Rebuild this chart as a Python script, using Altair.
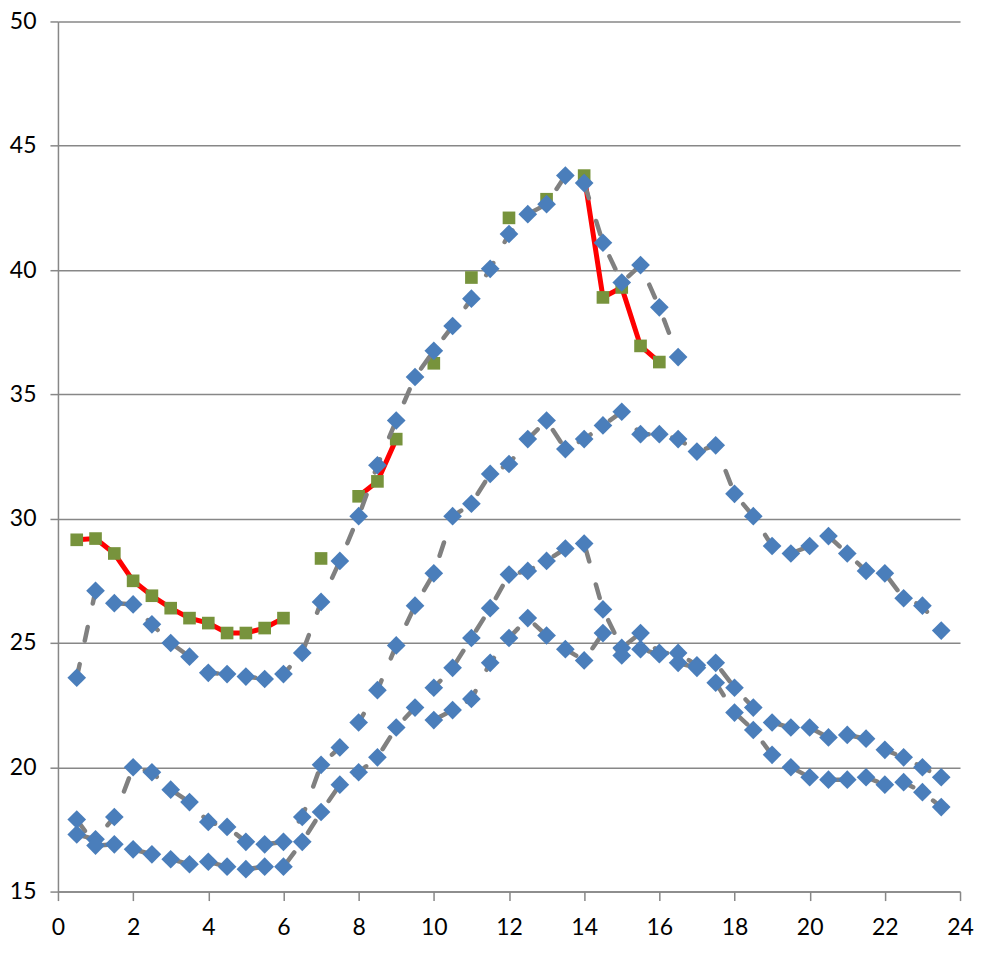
import altair as alt
import pandas as pd

# ---- data ----
HOURS = [0.5, 1.0, 1.5, 2.0, 2.5, 3.0, 3.5, 4.0, 4.5, 5.0, 5.5, 6.0,
         6.5, 7.0, 7.5, 8.0, 8.5, 9.0, 9.5, 10.0, 10.5, 11.0, 11.5, 12.0,
         12.5, 13.0, 13.5, 14.0, 14.5, 15.0, 15.5, 16.0, 16.5, 17.0, 17.5, 18.0,
         18.5, 19.0, 19.5, 20.0, 20.5, 21.0, 21.5, 22.0, 22.5, 23.0, 23.5]

# blue series (grey dashed lines)
SERIES_A = [23.6, 27.1, 26.6, 26.55, 25.75, 25.0, 24.45, 23.8, 23.75, 23.65, 23.55, 23.75,
            24.6, 26.65, 28.3, 30.1, 32.15, 33.95, 35.7, 36.75, 37.75, 38.85, 40.05, 41.45,
            42.25, 42.65, 43.8, 43.5, 41.1, 39.5, 40.2, 38.5, 36.5]          # 0.5 .. 16.5
SERIES_B = [17.3, 17.1, 18.0, 20.0, 19.8, 19.1, 18.6, 17.8, 17.6, 17.0, 16.9, 17.0,
            18.0, 20.1, 20.8, 21.8, 23.1, 24.9, 26.5, 27.8, 30.1, 30.6, 31.8, 32.2,
            33.2, 33.95, 32.8, 33.2, 33.75, 34.3, 33.4, 33.4, 33.2, 32.7, 32.95, 31.0,
            30.1, 28.9, 28.6, 28.9, 29.3, 28.6, 27.9, 27.8, 26.8, 26.5, 25.5]  # 0.5 .. 23.5
SERIES_C = [17.9, 16.85, 16.9, 16.7, 16.5, 16.3, 16.1, 16.2, 16.0, 15.9, 16.0, 16.0,
            17.0, 18.2, 19.3, 19.8, 20.4, 21.6, 22.4, 23.2, 24.0, 25.2, 26.4, 27.75,
            27.9, 28.3, 28.8, 29.0, 26.35, 24.8, 25.4, 24.6, 24.6, 24.1, 24.2, 23.2,
            22.4, 21.8, 21.6, 21.6, 21.2, 21.3, 21.15, 20.7, 20.4, 20.0, 19.6]  # 0.5 .. 23.5
SERIES_D = [21.9, 22.3, 22.75, 24.2, 25.2, 26.0, 25.3, 24.75, 24.3, 25.4, 24.5, 24.75,
            24.55, 24.2, 24.0, 23.4, 22.2, 21.5, 20.5, 20.0, 19.6, 19.5, 19.5, 19.6,
            19.3, 19.4, 19.0, 18.4]                                            # 10.0 .. 23.5

# green squares / red line (None = missing reading)
SERIES_G = [29.15, 29.2, 28.6, 27.5, 26.9, 26.4, 26.0, 25.8, 25.4, 25.4, 25.6, 26.0,
            None, 28.4, None, 30.9, 31.5, 33.2, None, 36.25, None, 39.7, None, 42.1,
            None, 42.85, None, 43.8, 38.9, 39.3, 36.95, 36.3]                  # 0.5 .. 16.0

X_TICKS = [0, 2, 4, 6, 8, 10, 12, 14, 16, 18, 20, 22, 24]
Y_TICKS = [15, 20, 25, 30, 35, 40, 45, 50]

# ---- tables ----
blue_rows = []
for name, vals, start in [("A", SERIES_A, 0), ("B", SERIES_B, 0),
                          ("C", SERIES_C, 0), ("D", SERIES_D, HOURS.index(10.0))]:
    for i, v in enumerate(vals):
        blue_rows.append({"series": name, "x": HOURS[start + i], "y": v})
blue = pd.DataFrame(blue_rows)

green_rows = []
seg = 0
for i, v in enumerate(SERIES_G):
    if v is None:
        seg += 1
        continue
    green_rows.append({"x": HOURS[i], "y": v, "seg": seg})
green = pd.DataFrame(green_rows)

GRID = "#878787"
FONT = "Lato"

x_enc = alt.X("x:Q", title=None,
              scale=alt.Scale(domain=[0, 24], nice=False),
              axis=alt.Axis(values=X_TICKS, grid=False, tickSize=9, tickWidth=1.5,
                            tickColor=GRID, domainColor=GRID, domainWidth=1.5,
                            labelFont=FONT, labelFontSize=23, labelColor="#000000",
                            labelPadding=16, labelFlush=False))
y_enc = alt.Y("y:Q", title=None,
              scale=alt.Scale(domain=[15, 50], nice=False, zero=False),
              axis=alt.Axis(values=Y_TICKS, grid=True, gridColor=GRID, gridWidth=1.5,
                            tickSize=8, tickWidth=1.5, tickColor=GRID,
                            domainColor=GRID, domainWidth=1.5,
                            labelFont=FONT, labelFontSize=23, labelColor="#000000",
                            labelPadding=14, labelFlush=False))

red_line = alt.Chart(green).mark_line(color="#FF0000", strokeWidth=5).encode(
    x=x_enc, y=y_enc, detail="seg:N")
green_pts = alt.Chart(green).mark_point(shape="square", filled=True, size=160,
                                        color="#77933C", opacity=1).encode(x=x_enc, y=y_enc)
grey_line = alt.Chart(blue).mark_line(color="#808080", strokeWidth=4.5,
                                      strokeDash=[14, 24], strokeCap="round").encode(
    x=x_enc, y=y_enc, detail="series:N")
blue_pts = alt.Chart(blue).mark_point(shape="diamond", filled=True, size=350,
                                      color="#4A7EBB", opacity=1).encode(x=x_enc, y=y_enc)

chart = alt.layer(red_line, green_pts, grey_line, blue_pts).properties(
    width=903, height=871,
    autosize=alt.AutoSizeParams(type="none"),
    padding={"left": 50, "top": 13, "right": 20, "bottom": 60},
    background="#FFFFFF",
).configure_view(strokeWidth=0)

chart.save("out.html", embed_options={"renderer": "svg", "actions": False})
